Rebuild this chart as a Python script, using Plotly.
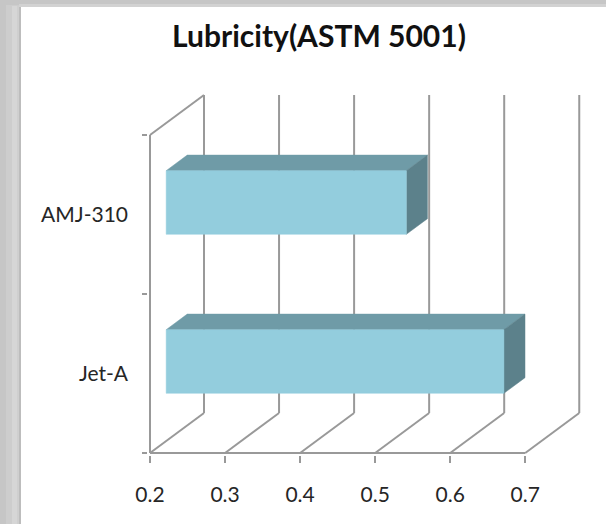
import plotly.graph_objects as go

# ---- data -------------------------------------------------------------
categories = ["Jet-A", "AMJ-310"]          # bottom to top
lubricity = [0.65, 0.52]
x_ticks = [0.2, 0.3, 0.4, 0.5, 0.6, 0.7]
x_tick_text = ["0.2", "0.3", "0.4", "0.5", "0.6", "0.7"]
title_text = "Lubricity(ASTM 5001)"

# ---- figure geometry --------------------------------------------------
W, H = 606, 524
ML, MR, MT, MB = 148, 6, 85, 69
PX_PER_X = 750.5          # px per value unit
PX_PER_Y = 159.0          # px per category slot
x_lo, x_hi = x_ticks[0], x_ticks[-1]
n_cat = len(categories)

# oblique depth offset (front plane -> back plane), in data units
DX = 54 / PX_PER_X
DY = 40 / PX_PER_Y
# bars sit between these fractions of the depth
D0, D1 = 0.30, 0.69
# bar thickness inside a category slot
B0, B1 = 0.30, 0.70

plot_w = W - ML - MR
plot_h = H - MT - MB
x_range = [x_lo - 2 / PX_PER_X, x_lo - 2 / PX_PER_X + plot_w / PX_PER_X]
y_range = [-2 / PX_PER_Y, -2 / PX_PER_Y + plot_h / PX_PER_Y]

GRID = "#999999"
FRONT = "#93cddd"
TOP = "#6f9ba7"
SIDE = "#5c818b"
FONT = "Lato"

fig = go.Figure()


def add_line(xs, ys):
    fig.add_trace(go.Scatter(x=xs, y=ys, mode="lines",
                             line=dict(color=GRID, width=2),
                             hoverinfo="skip", showlegend=False))


def add_face(xs, ys, color):
    fig.add_trace(go.Scatter(x=xs + [xs[0]], y=ys + [ys[0]], mode="lines",
                             fill="toself", fillcolor=color,
                             line=dict(color=color, width=0.5),
                             hoverinfo="skip", showlegend=False))


# back wall gridlines and floor diagonals
for v in x_ticks:
    add_line([v + DX, v + DX], [DY, n_cat + DY])
    add_line([v, v + DX], [0, DY])
# front floor edge
add_line([x_lo, x_hi], [0, 0])
# left wall: front edge and top diagonal
add_line([x_lo, x_lo], [0, n_cat])
add_line([x_lo, x_lo + DX], [n_cat, n_cat + DY])

# 3-D bars
for i, val in enumerate(lubricity):
    y0 = i + B0
    y1 = i + B1
    fx0 = x_lo + D0 * DX
    fx1 = val + D0 * DX
    bx0 = x_lo + D1 * DX
    bx1 = val + D1 * DX
    fy0 = y0 + D0 * DY
    fy1 = y1 + D0 * DY
    by0 = y0 + D1 * DY
    by1 = y1 + D1 * DY
    # top face
    add_face([fx0, fx1, bx1, bx0], [fy1, fy1, by1, by1], TOP)
    # right end face
    add_face([fx1, bx1, bx1, fx1], [fy0, by0, by1, fy1], SIDE)
    # front face
    add_face([fx0, fx1, fx1, fx0], [fy0, fy0, fy1, fy1], FRONT)


# ---- frame with a soft shadow around the white chart area ------------
def px2paper_x(px):
    return (px - ML) / plot_w


def px2paper_y(py):
    return (H - MB - py) / plot_h


shapes = []
bands = [  # (x0, x1, y0, y1, colour) in pixels
    (0, 21, 0, H, "#c6c6c6"),
    (0, W, 0, 7, "#c6c6c6"),
    (6, 21, 5, H, "#cdcdcd"),
    (12, 21, 6, H, "#d6d6d6"),
    (17, 21, 6, H, "#cfcfcf"),
    (19, W, 4, 7, "#d2d2d2"),
    (19, 21, 7, H, "#bdbdbd"),
]
for x0, x1, y0, y1, c in bands:
    shapes.append(dict(type="rect", xref="paper", yref="paper",
                       x0=px2paper_x(x0), x1=px2paper_x(x1),
                       y0=px2paper_y(y1), y1=px2paper_y(y0),
                       fillcolor=c, line=dict(width=0), layer="below"))

fig.update_layout(
    width=W, height=H,
    margin=dict(l=ML, r=MR, t=MT, b=MB),
    paper_bgcolor="white", plot_bgcolor="rgba(0,0,0,0)",
    shapes=shapes,
    showlegend=False,
    hovermode=False,
    title=dict(text="<b>" + title_text + "</b>",
               x=319 / W, xref="container", xanchor="center",
               y=1 - 36 / H, yref="container", yanchor="middle",
               font=dict(family=FONT, size=30, color="#111111")),
    xaxis=dict(range=x_range, showgrid=False, zeroline=False, showline=False,
               tickmode="array", tickvals=x_ticks, ticktext=x_tick_text,
               ticks="outside", ticklen=7, tickwidth=2, tickcolor=GRID,
               ticklabelstandoff=14,
               tickfont=dict(family=FONT, size=21, color="#262626"),
               fixedrange=True),
    yaxis=dict(range=y_range, showgrid=False, zeroline=False, showline=False,
               tickmode="array",
               tickvals=[i + 0.5 for i in range(n_cat)], ticktext=categories,
               ticks="", ticklabelstandoff=19,
               minor=dict(tickmode="array", tickvals=list(range(n_cat + 1)),
                          ticks="outside", ticklen=5, tickwidth=2,
                          tickcolor=GRID, showgrid=False),
               tickfont=dict(family=FONT, size=21, color="#262626"),
               fixedrange=True),
)

fig.write_html("out.html")
